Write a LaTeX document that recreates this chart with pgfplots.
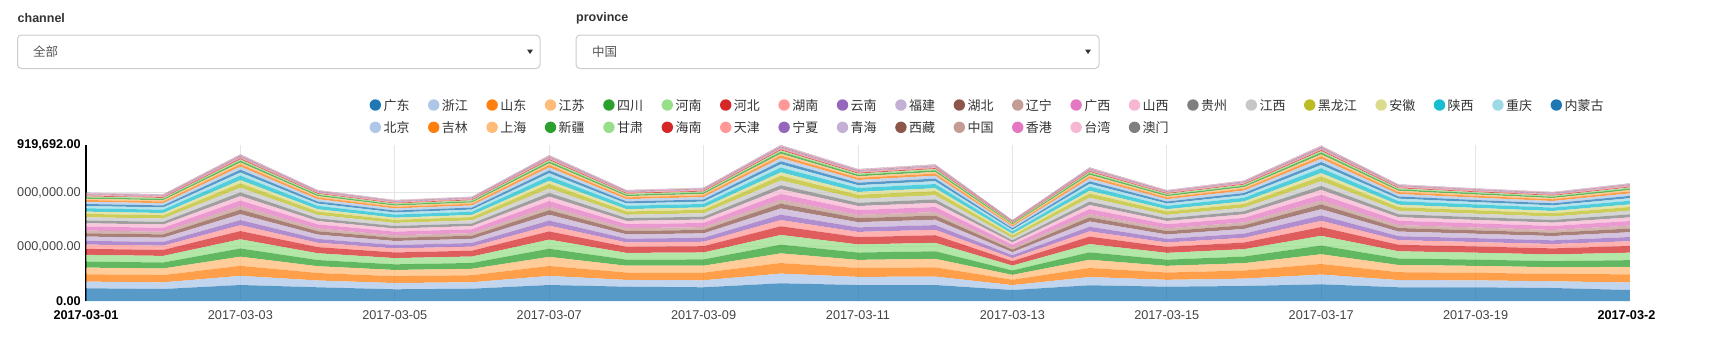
\documentclass[border=0pt]{standalone}
\usepackage{pgfplots}
\pgfplotsset{compat=1.18}
\usepackage{pgfplotstable}
\usepackage{fontspec}
\setmainfont{Liberation Sans}
\newfontfamily\cjk{Noto Sans CJK SC}
\definecolor{txt}{HTML}{333333}
\definecolor{tick}{HTML}{444444}
\definecolor{bordc}{HTML}{CCCCCC}
\definecolor{gridc}{HTML}{E5E5E5}
\definecolor{selc}{HTML}{555555}
\definecolor{c0}{HTML}{1F77B4}\definecolor{c1}{HTML}{AEC7E8}\definecolor{c2}{HTML}{FF7F0E}
\definecolor{c3}{HTML}{FFBB78}\definecolor{c4}{HTML}{2CA02C}\definecolor{c5}{HTML}{98DF8A}
\definecolor{c6}{HTML}{D62728}\definecolor{c7}{HTML}{FF9896}\definecolor{c8}{HTML}{9467BD}
\definecolor{c9}{HTML}{C5B0D5}\definecolor{c10}{HTML}{8C564B}\definecolor{c11}{HTML}{C49C94}
\definecolor{c12}{HTML}{E377C2}\definecolor{c13}{HTML}{F7B6D2}\definecolor{c14}{HTML}{7F7F7F}
\definecolor{c15}{HTML}{C7C7C7}\definecolor{c16}{HTML}{BCBD22}\definecolor{c17}{HTML}{DBDB8D}
\definecolor{c18}{HTML}{17BECF}\definecolor{c19}{HTML}{9EDAE5}\definecolor{c20}{HTML}{1F77B4}
\definecolor{c21}{HTML}{AEC7E8}\definecolor{c22}{HTML}{FF7F0E}\definecolor{c23}{HTML}{FFBB78}
\definecolor{c24}{HTML}{2CA02C}\definecolor{c25}{HTML}{98DF8A}\definecolor{c26}{HTML}{D62728}
\definecolor{c27}{HTML}{FF9896}\definecolor{c28}{HTML}{9467BD}\definecolor{c29}{HTML}{C5B0D5}
\definecolor{c30}{HTML}{8C564B}\definecolor{c31}{HTML}{C49C94}\definecolor{c32}{HTML}{E377C2}
\definecolor{c33}{HTML}{F7B6D2}\definecolor{c34}{HTML}{7F7F7F}
% values in thousands
\pgfplotstableread{
d g0 g1 g2 g3 g4 g5 g6 g7 g8 g9 g10 g11 g12 g13 g14 g15 g16 g17 g18 g19 g20 g21 g22 g23 g24 g25 g26 g27 g28 g29 g30 g31 g32 g33 g34
0 74.9 39.5 43.1 39.5 35.4 39.5 35.4 25.4 21.8 25.4 19.5 15.9 23.6 19.5 15.9 19.5 19.5 13.6 19.5 13.6 11.8 13.6 10.0 7.7 7.7 5.9 4.1 4.1 2.4 2.1 1.8 2.1 1.8 2.1 1.5
1 70.7 39.2 42.7 39.2 35.1 39.2 35.1 25.2 21.6 25.2 19.3 15.8 23.4 19.3 15.8 19.3 19.3 13.5 19.3 13.5 11.7 13.5 9.9 7.6 7.6 5.9 4.1 4.1 2.3 2.0 1.8 2.0 1.8 2.0 1.5
2 94.3 54.1 58.9 54.1 48.4 54.1 48.4 34.7 29.9 34.7 26.6 21.8 32.3 26.6 21.8 26.6 26.6 18.6 26.6 18.6 16.1 18.6 13.7 10.5 10.5 8.1 5.6 5.6 3.2 2.8 2.4 2.8 2.4 2.8 2.0
3 80.8 40.3 43.9 40.3 36.1 40.3 36.1 25.8 22.2 25.8 19.8 16.2 24.0 19.8 16.2 19.8 19.8 13.8 19.8 13.8 12.0 13.8 10.2 7.8 7.8 6.0 4.2 4.2 2.4 2.1 1.8 2.1 1.8 2.1 1.5
4 69.0 36.9 40.2 36.9 33.1 36.9 33.1 23.7 20.4 23.7 18.2 14.9 22.0 18.2 14.9 18.2 18.2 12.7 18.2 12.7 11.0 12.7 9.4 7.2 7.2 5.5 3.9 3.9 2.2 1.9 1.7 1.9 1.7 1.9 1.4
5 72.5 38.1 41.5 38.1 34.1 38.1 34.1 24.4 21.0 24.4 18.7 15.3 22.7 18.7 15.3 18.7 18.7 13.1 18.7 13.1 11.4 13.1 9.7 7.4 7.4 5.7 4.0 4.0 2.3 2.0 1.7 2.0 1.7 2.0 1.4
6 94.3 53.7 58.5 53.7 48.1 53.7 48.1 34.5 29.7 34.5 26.5 21.7 32.1 26.5 21.7 26.5 26.5 18.4 26.5 18.4 16.0 18.4 13.6 10.4 10.4 8.0 5.6 5.6 3.2 2.8 2.4 2.8 2.4 2.8 2.0
7 84.3 40.0 43.6 40.0 35.8 40.0 35.8 25.7 22.1 25.7 19.7 16.1 23.9 19.7 16.1 19.7 19.7 13.7 19.7 13.7 11.9 13.7 10.1 7.8 7.8 6.0 4.2 4.2 2.4 2.1 1.8 2.1 1.8 2.1 1.5
8 80.8 41.2 44.9 41.2 36.9 41.2 36.9 26.4 22.8 26.4 20.3 16.6 24.6 20.3 16.6 20.3 20.3 14.1 20.3 14.1 12.3 14.1 10.5 8.0 8.0 6.2 4.3 4.3 2.5 2.2 1.8 2.2 1.8 2.2 1.5
9 104.3 57.2 62.3 57.2 51.2 57.2 51.2 36.7 31.6 36.7 28.2 23.1 34.2 28.2 23.1 28.2 28.2 19.6 28.2 19.6 17.1 19.6 14.5 11.1 11.1 8.5 6.0 6.0 3.4 3.0 2.6 3.0 2.6 3.0 2.1
10 94.3 48.0 52.3 48.0 43.0 48.0 43.0 30.8 26.5 30.8 23.6 19.3 28.6 23.6 19.3 23.6 23.6 16.5 23.6 16.5 14.3 16.5 12.2 9.3 9.3 7.2 5.0 5.0 2.9 2.5 2.1 2.5 2.1 2.5 1.8
11 94.3 49.9 54.4 49.9 44.7 49.9 44.7 32.0 27.6 32.0 24.6 20.1 29.8 24.6 20.1 24.6 24.6 17.1 24.6 17.1 14.9 17.1 12.7 9.7 9.7 7.5 5.2 5.2 3.0 2.6 2.2 2.6 2.2 2.6 1.9
12 64.8 28.9 31.5 28.9 25.9 28.9 25.9 18.6 16.0 18.6 14.3 11.7 17.3 14.3 11.7 14.3 14.3 9.9 14.3 9.9 8.6 9.9 7.3 5.6 5.6 4.3 3.0 3.0 1.7 1.5 1.3 1.5 1.3 1.5 1.1
13 92.6 48.8 53.1 48.8 43.7 48.8 43.7 31.3 26.9 31.3 24.0 19.7 29.1 24.0 19.7 24.0 24.0 16.7 24.0 16.7 14.6 16.7 12.4 9.5 9.5 7.3 5.1 5.1 2.9 2.5 2.2 2.5 2.2 2.5 1.8
14 84.3 40.6 43.0 39.4 36.3 40.2 35.2 25.9 21.8 25.5 19.9 16.0 24.2 19.4 16.3 19.6 19.9 13.5 19.8 13.9 11.7 13.8 10.0 7.9 7.7 6.1 4.1 4.3 2.4 2.1 1.8 2.1 1.8 2.1 1.5
15 88.4 43.6 47.5 43.6 39.0 43.6 39.0 28.0 24.1 28.0 21.5 17.6 26.0 21.5 17.6 21.5 21.5 15.0 21.5 15.0 13.0 15.0 11.1 8.5 8.5 6.5 4.6 4.6 2.6 2.3 2.0 2.3 2.0 2.3 1.6
16 98.4 57.4 62.5 57.4 51.4 57.4 51.4 36.8 31.7 36.8 28.2 23.1 34.2 28.2 23.1 28.2 28.2 19.7 28.2 19.7 17.1 19.7 14.6 11.1 11.1 8.6 6.0 6.0 3.4 3.0 2.6 3.0 2.6 3.0 2.1
17 80.8 42.6 46.4 42.6 38.2 42.6 38.2 27.3 23.5 27.3 21.0 17.2 25.4 21.0 17.2 21.0 21.0 14.6 21.0 14.6 12.7 14.6 10.8 8.3 8.3 6.4 4.5 4.5 2.5 2.2 1.9 2.2 1.9 2.2 1.6
18 80.8 40.9 44.6 40.9 36.7 40.9 36.7 26.3 22.6 26.3 20.2 16.5 24.4 20.2 16.5 20.2 20.2 14.1 20.2 14.1 12.2 14.1 10.4 7.9 7.9 6.1 4.3 4.3 2.4 2.1 1.8 2.1 1.8 2.1 1.5
19 76.6 39.7 43.3 39.7 35.6 39.7 35.6 25.5 21.9 25.5 19.6 16.0 23.7 19.6 16.0 19.6 19.6 13.6 19.6 13.6 11.9 13.6 10.1 7.7 7.7 5.9 4.2 4.2 2.4 2.1 1.8 2.1 1.8 2.1 1.5
20 64.8 44.2 48.1 44.2 39.5 44.2 39.5 28.3 24.4 28.3 21.7 17.8 26.4 21.7 17.8 21.7 21.7 15.2 21.7 15.2 13.2 15.2 11.2 8.6 8.6 6.6 4.6 4.6 2.6 2.3 2.0 2.3 2.0 2.3 1.6
}\datatable
\begin{document}
\begin{tikzpicture}
\useasboundingbox (0pt,0pt) rectangle (1710pt,-362pt);
% header controls
\node[anchor=west, inner sep=0pt, font=\bfseries\fontsize{12.5pt}{13pt}\selectfont, text=txt] at (17.5pt,-18.5pt) {channel};
\node[anchor=west, inner sep=0pt, font=\bfseries\fontsize{12.5pt}{13pt}\selectfont, text=txt] at (576pt,-18.5pt) {province};
\draw[bordc, line width=1pt, rounded corners=4pt] (17.5pt,-35pt) rectangle (540pt,-68.5pt);
\draw[bordc, line width=1pt, rounded corners=4pt] (576pt,-35pt) rectangle (1099pt,-68.5pt);
\node[anchor=west, inner sep=0pt, font=\cjk\fontsize{12.5pt}{13pt}\selectfont, text=selc] at (33pt,-51.5pt) {全部};
\node[anchor=west, inner sep=0pt, font=\cjk\fontsize{12.5pt}{13pt}\selectfont, text=selc] at (592pt,-51.5pt) {中国};
\fill[txt] (527pt,-49.5pt) -- (533pt,-49.5pt) -- (530pt,-54pt) -- cycle;
\fill[txt] (1085pt,-49.5pt) -- (1091pt,-49.5pt) -- (1088pt,-54pt) -- cycle;
\begin{axis}[
  at={(86pt,-301pt)}, anchor=south west,
  scale only axis, width=1544pt, height=156pt,
  xmin=0, xmax=20, ymin=0, ymax=919.692,
  stack plots=y,
  axis x line*=bottom, axis y line*=left,
  x axis line style={draw=none},
  y axis line style={draw=black, line width=1.3pt},
  tick style={draw=none}, major tick length=0pt,
  xtick={2,4,6,8,10,12,14,16,18},
  xticklabels={2017-03-03,2017-03-05,2017-03-07,2017-03-09,2017-03-11,2017-03-13,2017-03-15,2017-03-17,2017-03-19},
  extra x ticks={0,20},
  extra x tick labels={{\bfseries 2017-03-01},{\bfseries 2017-03-2\hphantom{1}}},
  extra x tick style={grid=none, xticklabel style={text=black}},
  ytick={320,640},
  yticklabels={{000,000.00},{000,000.00}},
  extra y ticks={0,919.692},
  extra y tick labels={{\bfseries 0.00},{\bfseries 919,692.00}},
  extra y tick style={grid=none, yticklabel style={text=black}},
  xmajorgrids, ymajorgrids,
  grid style={draw=gridc, line width=0.8pt},
  ticklabel style={font=\fontsize{12.7pt}{13pt}\selectfont, text=tick},
  xticklabel style={inner sep=0pt, yshift=-9pt},
  yticklabel style={inner sep=0pt, xshift=-5pt},
  legend columns=21,
  legend cell align=left,
  legend image code/.code={\fill[#1,fill opacity=1,draw=none] (0pt,0pt) circle (5.7pt);},
  legend style={
    at={(axis description cs:0.1837,1.298)}, anchor=north west,
    draw=none, fill=none, inner sep=0pt, outer sep=0pt,
    font=\cjk\fontsize{13pt}{13pt}\selectfont, text=txt,
    row sep=9.3pt, column sep=0pt,
    nodes={inner sep=0pt, text height=11.5pt, text depth=1.5pt},
    /tikz/every odd column/.append style={column sep=2.5pt},
    /tikz/every even column/.append style={column sep=18.5pt},
  },
  legend entries={广东,浙江,山东,江苏,四川,河南,河北,湖南,云南,福建,湖北,辽宁,广西,山西,贵州,江西,黑龙江,安徽,陕西,重庆,内蒙古,北京,吉林,上海,新疆,甘肃,海南,天津,宁夏,青海,西藏,中国,香港,台湾,澳门},
]
\pgfplotsinvokeforeach{0,...,34}{
  \addplot[fill=c#1, draw=none, fill opacity=0.75] table[x=d, y=g#1]{\datatable} \closedcycle;
}
\end{axis}
\end{tikzpicture}
\end{document}
